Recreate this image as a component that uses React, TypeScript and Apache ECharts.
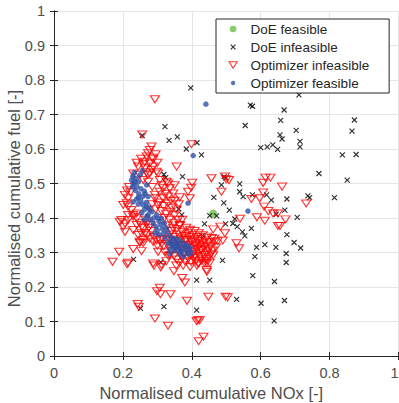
import React, { useEffect, useRef } from "react";
import * as echarts from "echarts";

const xTicks = ["0", "0.2", "0.4", "0.6", "0.8", "1"];
const yTicks = ["0", "0.1", "0.2", "0.3", "0.4", "0.5", "0.6", "0.7", "0.8", "0.9", "1"];
const seriesNames = ["DoE feasible", "DoE infeasible", "Optimizer infeasible", "Optimizer feasible"];

const doeFeasible: number[][] = [[0.462, 0.413]];

const doeInfeasible: number[][] = [
  [0.397, 0.777], [0.322, 0.665], [0.256, 0.639], [0.334, 0.625], [0.358, 0.635], [0.384, 0.600],
  [0.415, 0.618], [0.319, 0.526], [0.324, 0.517], [0.373, 0.520], [0.711, 0.757], [0.570, 0.727],
  [0.576, 0.724], [0.668, 0.713], [0.658, 0.683], [0.555, 0.668], [0.703, 0.654], [0.656, 0.641],
  [0.662, 0.629], [0.714, 0.622], [0.714, 0.606], [0.600, 0.604], [0.619, 0.606], [0.635, 0.612],
  [0.649, 0.599], [0.872, 0.684], [0.865, 0.652], [0.837, 0.583], [0.877, 0.584], [0.428, 0.583],
  [0.769, 0.529], [0.851, 0.510], [0.486, 0.496], [0.539, 0.499], [0.494, 0.520], [0.499, 0.516],
  [0.464, 0.460], [0.539, 0.476], [0.549, 0.462], [0.576, 0.467], [0.617, 0.467], [0.631, 0.452],
  [0.676, 0.455], [0.737, 0.464], [0.742, 0.459], [0.814, 0.459], [0.670, 0.423], [0.706, 0.402],
  [0.645, 0.411], [0.676, 0.352], [0.697, 0.329], [0.612, 0.323], [0.644, 0.315], [0.716, 0.313],
  [0.674, 0.297], [0.674, 0.271], [0.640, 0.216], [0.601, 0.153], [0.669, 0.161], [0.639, 0.102],
  [0.493, 0.444], [0.509, 0.423], [0.452, 0.407], [0.472, 0.406], [0.437, 0.383], [0.498, 0.383],
  [0.519, 0.384], [0.525, 0.397], [0.532, 0.375], [0.547, 0.360], [0.554, 0.348], [0.573, 0.370],
  [0.431, 0.349], [0.588, 0.315], [0.583, 0.288], [0.489, 0.277], [0.577, 0.233], [0.452, 0.220],
  [0.530, 0.164], [0.362, 0.426], [0.371, 0.409], [0.231, 0.280], [0.310, 0.272], [0.251, 0.138],
  [0.319, 0.143], [0.414, 0.133], [0.414, 0.220],
];

const optimizerInfeasible: number[][] = [
  // upper column and outliers
  [0.293, 0.744], [0.256, 0.642], [0.399, 0.614], [0.283, 0.607], [0.278, 0.597], [0.273, 0.588],
  [0.269, 0.578], [0.288, 0.570], [0.264, 0.563], [0.259, 0.556], [0.278, 0.558], [0.244, 0.549],
  [0.264, 0.544], [0.288, 0.549], [0.230, 0.529], [0.249, 0.525], [0.273, 0.525], [0.298, 0.534],
  [0.307, 0.510], [0.327, 0.505], [0.356, 0.549], [0.317, 0.486], [0.336, 0.486], [0.307, 0.476],
  [0.331, 0.462], [0.346, 0.471], [0.293, 0.467], [0.389, 0.476], [0.401, 0.502], [0.206, 0.467],
  [0.215, 0.457], [0.278, 0.529], [0.302, 0.529], [0.259, 0.510], [0.273, 0.505], [0.331, 0.500],
  [0.293, 0.457], [0.317, 0.457], [0.302, 0.438], [0.283, 0.540], [0.268, 0.533], [0.253, 0.572],
  [0.295, 0.585], [0.285, 0.575], [0.240, 0.560], [0.300, 0.560], [0.312, 0.495], [0.285, 0.490],
  [0.350, 0.495], [0.322, 0.470], [0.340, 0.450], [0.365, 0.460], [0.398, 0.488], [0.394, 0.457],
  [0.222, 0.475], [0.218, 0.490], [0.212, 0.480],
  // right side
  [0.457, 0.515], [0.496, 0.520], [0.508, 0.510], [0.500, 0.512], [0.486, 0.476], [0.607, 0.502],
  [0.614, 0.517], [0.628, 0.517], [0.607, 0.474], [0.662, 0.491], [0.573, 0.455], [0.610, 0.433],
  [0.622, 0.420], [0.636, 0.413], [0.650, 0.413], [0.672, 0.396], [0.650, 0.377], [0.656, 0.377],
  [0.612, 0.392], [0.589, 0.402], [0.540, 0.398], [0.597, 0.457], [0.732, 0.442], [0.462, 0.367],
  [0.483, 0.375], [0.496, 0.356], [0.530, 0.327], [0.537, 0.312], [0.475, 0.333], [0.465, 0.340],
  [0.490, 0.335],
  // left of the feasible band and lower outliers
  [0.201, 0.438], [0.215, 0.433], [0.225, 0.423], [0.215, 0.409], [0.230, 0.409], [0.240, 0.399],
  [0.196, 0.394], [0.206, 0.384], [0.191, 0.389], [0.201, 0.375], [0.206, 0.360], [0.215, 0.394],
  [0.230, 0.404], [0.240, 0.380], [0.254, 0.356], [0.249, 0.331], [0.259, 0.327], [0.269, 0.384],
  [0.259, 0.370], [0.264, 0.356], [0.230, 0.365], [0.244, 0.351], [0.259, 0.336], [0.288, 0.331],
  [0.307, 0.336], [0.211, 0.443], [0.240, 0.413], [0.189, 0.302], [0.230, 0.310], [0.254, 0.304],
  [0.170, 0.273], [0.212, 0.266], [0.215, 0.270], [0.290, 0.262], [0.310, 0.257], [0.348, 0.246],
  [0.307, 0.198], [0.299, 0.188], [0.309, 0.179], [0.338, 0.179], [0.243, 0.151], [0.246, 0.143],
  [0.293, 0.109], [0.331, 0.088], [0.302, 0.302], [0.336, 0.293], [0.249, 0.328], [0.288, 0.268],
  [0.312, 0.264], [0.372, 0.226], [0.380, 0.213], [0.386, 0.160], [0.414, 0.101], [0.418, 0.104],
  [0.423, 0.104], [0.434, 0.056], [0.420, 0.043], [0.443, 0.249], [0.444, 0.244], [0.418, 0.268],
  [0.443, 0.269], [0.448, 0.172], [0.498, 0.172], [0.504, 0.170],
  // dense cluster
  [0.335, 0.352], [0.342, 0.362], [0.350, 0.345], [0.356, 0.368], [0.362, 0.352], [0.368, 0.340],
  [0.372, 0.360], [0.378, 0.348], [0.384, 0.336], [0.388, 0.356], [0.392, 0.344], [0.398, 0.332],
  [0.402, 0.350], [0.406, 0.338], [0.410, 0.326], [0.414, 0.345], [0.418, 0.333], [0.422, 0.321],
  [0.426, 0.340], [0.430, 0.328], [0.434, 0.316], [0.438, 0.335], [0.442, 0.323], [0.446, 0.311],
  [0.450, 0.330], [0.455, 0.318], [0.460, 0.306], [0.345, 0.330], [0.352, 0.318], [0.358, 0.306],
  [0.364, 0.322], [0.370, 0.310], [0.376, 0.298], [0.382, 0.318], [0.388, 0.306], [0.394, 0.294],
  [0.400, 0.314], [0.405, 0.302], [0.410, 0.290], [0.416, 0.310], [0.420, 0.298], [0.425, 0.286],
  [0.430, 0.305], [0.436, 0.293], [0.440, 0.281], [0.445, 0.300], [0.450, 0.288], [0.456, 0.296],
  [0.348, 0.290], [0.356, 0.280], [0.364, 0.270], [0.372, 0.285], [0.380, 0.275], [0.390, 0.282],
  [0.398, 0.272], [0.404, 0.284], [0.412, 0.276], [0.420, 0.268], [0.428, 0.276], [0.436, 0.270],
  [0.444, 0.276], [0.452, 0.270], [0.340, 0.305], [0.332, 0.290], [0.326, 0.275], [0.322, 0.300],
  [0.318, 0.318], [0.328, 0.325], [0.336, 0.338], [0.395, 0.366], [0.408, 0.362], [0.420, 0.356],
  [0.432, 0.350], [0.445, 0.346], [0.458, 0.342], [0.466, 0.330], [0.470, 0.315], [0.462, 0.292],
  [0.415, 0.262], [0.395, 0.258], [0.375, 0.262], [0.355, 0.262], [0.384, 0.372], [0.366, 0.378],
  [0.410, 0.318], [0.388, 0.322], [0.426, 0.308], [0.402, 0.296], [0.380, 0.336], [0.360, 0.334],
  // around the feasible band
  [0.305, 0.445], [0.318, 0.435], [0.330, 0.442], [0.342, 0.430], [0.312, 0.420], [0.325, 0.412],
  [0.338, 0.418], [0.350, 0.408], [0.320, 0.400], [0.335, 0.395], [0.348, 0.385], [0.360, 0.395],
  [0.330, 0.378], [0.345, 0.372], [0.285, 0.440], [0.295, 0.425], [0.355, 0.425], [0.362, 0.440],
  [0.350, 0.450], [0.372, 0.395], [0.365, 0.380], [0.270, 0.350], [0.278, 0.340], [0.282, 0.362],
  [0.275, 0.372], [0.290, 0.345], [0.298, 0.335], [0.300, 0.320], [0.312, 0.325], [0.315, 0.340],
  [0.265, 0.395], [0.280, 0.380], [0.250, 0.385], [0.255, 0.375],
];

const optimizerFeasible: number[][] = [
  [0.441, 0.730], [0.404, 0.581], [0.563, 0.420], [0.389, 0.443],
  [0.233, 0.532], [0.256, 0.537], [0.229, 0.521], [0.225, 0.510], [0.238, 0.515], [0.230, 0.500],
  [0.245, 0.505], [0.228, 0.490], [0.240, 0.492], [0.236, 0.480], [0.252, 0.485], [0.269, 0.496],
  [0.262, 0.478], [0.246, 0.470], [0.258, 0.463], [0.273, 0.462], [0.240, 0.455], [0.230, 0.447],
  [0.252, 0.450], [0.259, 0.438], [0.268, 0.445], [0.245, 0.440], [0.275, 0.430], [0.263, 0.425],
  [0.273, 0.409], [0.284, 0.418], [0.298, 0.409], [0.290, 0.400], [0.312, 0.399], [0.305, 0.390],
  [0.288, 0.384], [0.296, 0.375], [0.310, 0.380], [0.320, 0.385], [0.300, 0.365], [0.293, 0.356],
  [0.315, 0.368], [0.325, 0.372], [0.305, 0.352], [0.318, 0.355], [0.330, 0.360], [0.336, 0.348],
  [0.322, 0.342], [0.346, 0.341], [0.331, 0.327], [0.340, 0.335], [0.352, 0.330], [0.344, 0.322],
  [0.356, 0.317], [0.336, 0.310], [0.350, 0.305], [0.336, 0.297], [0.362, 0.325], [0.360, 0.308],
  [0.370, 0.315], [0.380, 0.317], [0.372, 0.302], [0.385, 0.305], [0.375, 0.288], [0.365, 0.295],
  [0.390, 0.295], [0.398, 0.300], [0.392, 0.310], [0.345, 0.315], [0.355, 0.340], [0.365, 0.335],
  [0.375, 0.328], [0.385, 0.322], [0.395, 0.315], [0.280, 0.395], [0.270, 0.405], [0.265, 0.470],
  [0.250, 0.525], [0.235, 0.505], [0.245, 0.460], [0.255, 0.415], [0.262, 0.395], [0.278, 0.423],
  [0.269, 0.433], [0.302, 0.399], [0.340, 0.325], [0.358, 0.322], [0.368, 0.305],
];

const FONT = "'Liberation Sans', Arial, Helvetica, sans-serif";
const AXIS = "#262626";
const TEXT = "#4d4d4d";
const GRID = "#e5e5e5";
const CROSS = "path://M0,0L10,10M10,0L0,10";
const TRI_DOWN = "path://M0,0L10,0L5,8Z";
// legend icons padded inside a 9x9 box
const ICON_GREEN = "path://M0,0M9,9M1.2,4.5A3.3,3.3,0,1,1,7.8,4.5A3.3,3.3,0,1,1,1.2,4.5Z";
const ICON_BLUE = "path://M0,0M9,9M2.3,4.5A2.2,2.2,0,1,1,6.7,4.5A2.2,2.2,0,1,1,2.3,4.5Z";
const ICON_CROSS = "path://M0,0M9,9M2.2,2.2L6.8,6.8M6.8,2.2L2.2,6.8";
const ICON_TRI = "path://M0,0M9,9M0.5,1.2L8.5,1.2L4.5,7.8Z";

export default function App() {
  const ref = useRef<HTMLDivElement>(null);
  useEffect(() => {
    if (!ref.current) return;
    const chart = echarts.init(ref.current, undefined, { renderer: "svg" });
    const tickStyle = { show: true, inside: true, length: 4, lineStyle: { color: AXIS, width: 1 } };
    const lineStyle = { show: true, lineStyle: { color: AXIS, width: 1 } };
    chart.setOption({
      animation: false,
      backgroundColor: "#ffffff",
      textStyle: { fontFamily: FONT },
      grid: { left: 54, top: 11, right: 0.5, bottom: 47, containLabel: false, outerBoundsMode: "none" },
      xAxis: [
        {
          type: "value", min: 0, max: 1, interval: 0.2, position: "bottom",
          name: "Normalised cumulative NOx [-]", nameLocation: "middle", nameGap: 28,
          nameMoveOverlap: false,
          nameTextStyle: { fontSize: 16.5, color: TEXT, fontFamily: FONT, padding: [0, 30, 0, 0] },
          axisLine: lineStyle, axisTick: tickStyle,
          axisLabel: { fontSize: 14.5, color: TEXT, fontFamily: FONT, margin: 9, alignMaxLabel: "right",
            formatter: (v: number) => xTicks[Math.round(v / 0.2)] },
          splitLine: { show: true, lineStyle: { color: GRID, width: 1 } },
        },
        {
          type: "value", min: 0, max: 1, interval: 0.2, position: "top",
          axisLine: lineStyle, axisTick: tickStyle, axisLabel: { show: false }, splitLine: { show: false },
        },
      ],
      yAxis: [
        {
          type: "value", min: 0, max: 1, interval: 0.1, position: "left",
          name: "Normalised cumulative fuel [-]", nameLocation: "middle", nameGap: 32,
          nameMoveOverlap: false,
          nameTextStyle: { fontSize: 16.5, color: TEXT, fontFamily: FONT, padding: [0, 30, 0, 0] },
          axisLine: lineStyle, axisTick: tickStyle,
          axisLabel: { fontSize: 14.5, color: TEXT, fontFamily: FONT, margin: 9,
            formatter: (v: number) => yTicks[Math.round(v / 0.1)] },
          splitLine: { show: true, lineStyle: { color: GRID, width: 1 } },
        },
        {
          type: "value", min: 0, max: 1, interval: 0.1, position: "right",
          axisLine: lineStyle, axisTick: tickStyle, axisLabel: { show: false }, splitLine: { show: false },
        },
      ],
      legend: {
        orient: "vertical", left: 216, top: 19, padding: [3, 20, 3, 12],
        itemWidth: 9, itemHeight: 9, itemGap: 4,
        backgroundColor: "#ffffff", borderColor: AXIS, borderWidth: 1, borderRadius: 0,
        textStyle: { fontSize: 13.5, color: AXIS, fontFamily: FONT, padding: [0, 0, 0, 8] },
        data: [
          { name: seriesNames[0], icon: ICON_GREEN },
          { name: seriesNames[1], icon: ICON_CROSS, itemStyle: { borderWidth: 1.2 } },
          { name: seriesNames[2], icon: ICON_TRI, itemStyle: { borderWidth: 1.1 } },
          { name: seriesNames[3], icon: ICON_BLUE },
        ],
      },
      series: [
        {
          name: seriesNames[0], type: "scatter", data: doeFeasible,
          symbol: "circle", symbolSize: 8, itemStyle: { color: "#6cbf4a" },
        },
        {
          name: seriesNames[1], type: "scatter", data: doeInfeasible,
          symbol: CROSS, symbolSize: 5,
          itemStyle: { color: "transparent", borderColor: "#000000", borderWidth: 1.2 },
        },
        {
          name: seriesNames[2], type: "scatter", data: optimizerInfeasible,
          symbol: TRI_DOWN, symbolSize: [9, 7],
          itemStyle: { color: "transparent", borderColor: "#ff0000", borderWidth: 1.1 },
        },
        {
          name: seriesNames[3], type: "scatter", data: optimizerFeasible,
          symbol: "circle", symbolSize: 5.5, itemStyle: { color: "#2f52a8" },
        },
      ],
    });
    return () => chart.dispose();
  }, []);
  return (
    <div
      ref={ref}
      style={{ position: "fixed", left: 0, top: 0, width: 399, height: 403, background: "#fff" }}
    />
  );
}
